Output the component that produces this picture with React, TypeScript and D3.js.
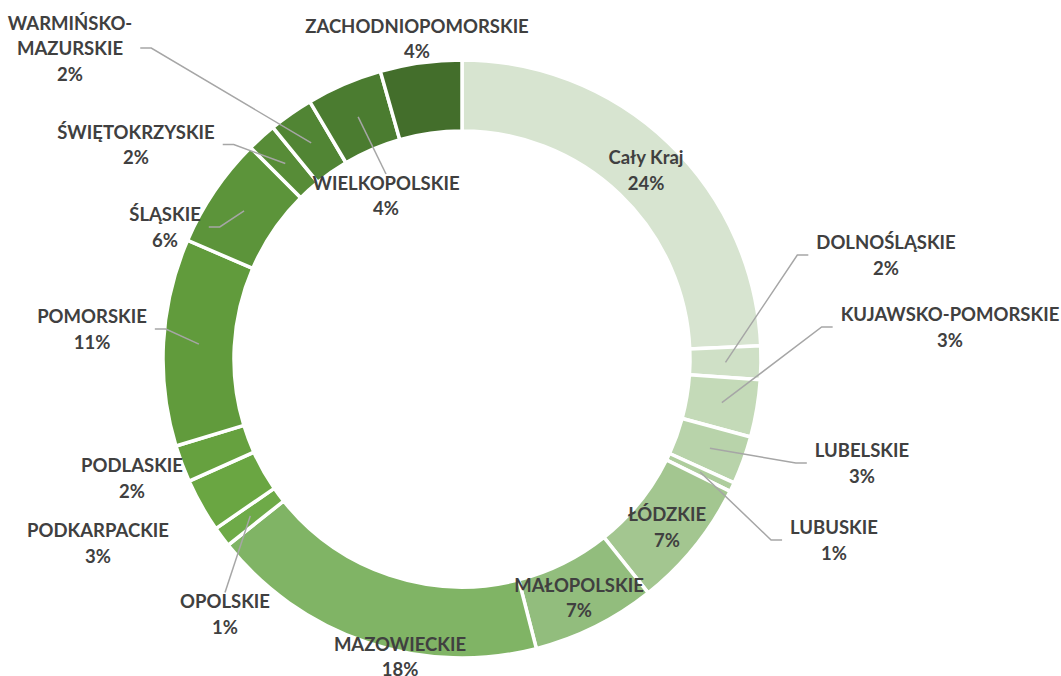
import React from "react";
import * as d3 from "d3";

// ---- data ----
const regions: string[] = [
  "Cały Kraj",
  "DOLNOŚLĄSKIE",
  "KUJAWSKO-POMORSKIE",
  "LUBELSKIE",
  "LUBUSKIE",
  "ŁÓDZKIE",
  "MAŁOPOLSKIE",
  "MAZOWIECKIE",
  "OPOLSKIE",
  "PODKARPACKIE",
  "PODLASKIE",
  "POMORSKIE",
  "ŚLĄSKIE",
  "ŚWIĘTOKRZYSKIE",
  "WARMIŃSKO-\nMAZURSKIE",
  "WIELKOPOLSKIE",
  "ZACHODNIOPOMORSKIE",
];

const shares: number[] = [
  24.3, 1.8, 3.1, 2.6, 0.5, 7.0, 6.7, 18.3, 1.1, 2.9, 2.0, 11.2, 6.0, 1.6, 2.4, 4.1, 4.4,
];

// ---- styles / layout (kept apart from the values) ----
const sliceColors: string[] = [
  "#d7e4d0",
  "#cfe0c6",
  "#c4dab8",
  "#b8d3aa",
  "#aecd9d",
  "#a3c690",
  "#92bd7d",
  "#80b465",
  "#6eaa48",
  "#6aa642",
  "#66a13f",
  "#619b3c",
  "#5c943a",
  "#578c37",
  "#518534",
  "#4b7c30",
  "#436e2b",
];

// label centre offsets from the donut centre, and leader style
type LeaderKind = "none" | "toLeft" | "toRight" | "toTop";
const labelOffsets: [number, number][] = [
  [184, -189],
  [424, -104],
  [488, -32],
  [400, 104],
  [372, 181],
  [205, 168],
  [117, 238.5],
  [-62, 297.5],
  [-237, 255],
  [-364, 184],
  [-330, 119],
  [-370, -30],
  [-297, -132],
  [-326, -214.5],
  [-392, -311],
  [-76, -163.5],
  [-45, -320.5],
];
const leaderKinds: LeaderKind[] = [
  "none",
  "toRight",
  "toRight",
  "toRight",
  "toRight",
  "none",
  "none",
  "none",
  "toTop",
  "none",
  "none",
  "toLeft",
  "toLeft",
  "toLeft",
  "toLeft",
  "toTop",
  "none",
];

const W = 1061;
const H = 676;
const CX = 462;
const CY = 359;
const R_OUT = 299;
const R_IN = 228;
const FONT_SIZE = 18.5;
const LINE_H = 25.5;
const FONT_FAMILY = "Lato, 'Open Sans', sans-serif";
const TEXT_COLOR = "#404040";
const LEADER_COLOR = "#a6a6a6";

let measureCtx: CanvasRenderingContext2D | null = null;
function textWidth(s: string): number {
  if (!measureCtx) {
    const c = document.createElement("canvas");
    measureCtx = c.getContext("2d");
  }
  if (!measureCtx) return s.length * FONT_SIZE * 0.6;
  measureCtx.font = `bold ${FONT_SIZE}px Lato`;
  return measureCtx.measureText(s).width;
}

function pctLabel(v: number, total: number): string {
  const p = +((v / total) * 100).toFixed(6);
  return `${Math.round(p)}%`;
}

export default function App() {
  const pie = d3
    .pie<number>()
    .sort(null)
    .value((d) => d)
    .startAngle(0)
    .endAngle(2 * Math.PI);
  const arcs = pie(shares);
  const arcGen = d3.arc<d3.PieArcDatum<number>>().innerRadius(R_IN).outerRadius(R_OUT);
  const total = d3.sum(shares);

  return (
    <svg
      width={W}
      height={H}
      style={{ position: "absolute", left: 0, top: 0, background: "#fff" }}
    >
      <g transform={`translate(${CX},${CY})`}>
        {arcs.map((a, i) => (
          <path
            key={"s" + i}
            d={arcGen(a) || ""}
            fill={sliceColors[i]}
            stroke="#ffffff"
            strokeWidth={3.5}
            strokeLinejoin="miter"
          />
        ))}
        {arcs.map((a, i) => {
          const kind = leaderKinds[i];
          if (kind === "none") return null;
          const [cx0, cy0] = arcGen.centroid(a);
          const [lx, ly] = labelOffsets[i];
          const lines = regions[i].split("\n");
          const wMax = d3.max(lines, (l) => textWidth(l)) || 0;
          let pts: [number, number][];
          if (kind === "toTop") {
            const top = ly - ((lines.length + 1) * LINE_H) / 2 + 4;
            pts = [
              [cx0, cy0],
              [lx, top],
            ];
          } else if (kind === "toLeft") {
            const edge = lx + wMax / 2 + 8;
            pts = [
              [cx0, cy0],
              [edge + 11, ly],
              [edge, ly],
            ];
          } else {
            const edge = lx - wMax / 2 - 8;
            pts = [
              [cx0, cy0],
              [edge - 11, ly],
              [edge, ly],
            ];
          }
          return (
            <path
              key={"l" + i}
              d={d3.line()(pts) || ""}
              fill="none"
              stroke={LEADER_COLOR}
              strokeWidth={1.5}
            />
          );
        })}
        {arcs.map((a, i) => {
          const [lx, ly] = labelOffsets[i];
          const lines = [...regions[i].split("\n"), pctLabel(a.value, total)];
          const n = lines.length;
          return (
            <text
              key={"t" + i}
              x={lx}
              y={ly}
              textAnchor="middle"
              fontFamily={FONT_FAMILY}
              fontWeight="bold"
              fontSize={FONT_SIZE}
              fill={TEXT_COLOR}
            >
              {lines.map((l, j) => (
                <tspan
                  key={j}
                  x={lx}
                  y={ly + (j - (n - 1) / 2) * LINE_H}
                  dominantBaseline="central"
                >
                  {l}
                </tspan>
              ))}
            </text>
          );
        })}
      </g>
    </svg>
  );
}
